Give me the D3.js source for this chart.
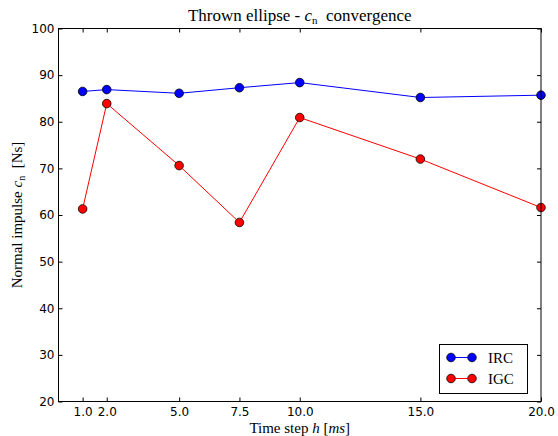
<!DOCTYPE html>
<html>
<head>
<meta charset="utf-8">
<script src="https://cdn.jsdelivr.net/npm/d3@7"></script>
<style>
  html, body { margin: 0; padding: 0; background: #fff; }
  svg { display: block; }
</style>
</head>
<body>
<svg id="chart" width="558" height="436"></svg>
<script>
// Time steps (ms) and normal impulse results (Ns)
const timeSteps = [1.0, 2.0, 5.0, 7.5, 10.0, 15.0, 20.0];
const ircValues = [86.5, 86.9, 86.1, 87.3, 88.4, 85.2, 85.7];
const igcValues = [61.3, 83.9, 70.6, 58.4, 80.9, 72.0, 61.6];
const xTickValues = [1.0, 2.0, 5.0, 7.5, 10.0, 15.0, 20.0];
const yTickValues = [20, 30, 40, 50, 60, 70, 80, 90, 100];
const seriesNames = ["IRC", "IGC"];
const seriesColors = ["#0000ff", "#ff0000"];

const svg = d3.select("#chart");
const margin = { left: 58.5, right: 17, top: 28.5, bottom: 34.5 };
const W = 558, H = 436;
const x = d3.scaleLinear().domain([0, 20]).range([margin.left, W - margin.right]);
const y = d3.scaleLinear().domain([20, 100]).range([H - margin.bottom, margin.top]);

const tickFont = "DejaVu Sans, sans-serif";
const serif = "Liberation Serif, Times New Roman, serif";

// Data lines and markers
const series = [ircValues, igcValues];
const line = d3.line().x((d, i) => x(timeSteps[i])).y(d => y(d));
series.forEach((vals, k) => {
  svg.append("path")
    .attr("d", line(vals))
    .attr("fill", "none")
    .attr("stroke", seriesColors[k])
    .attr("stroke-width", 1);
});
series.forEach((vals, k) => {
  svg.append("g").selectAll("circle").data(vals).join("circle")
    .attr("cx", (d, i) => x(timeSteps[i]))
    .attr("cy", d => y(d))
    .attr("r", 4.3)
    .attr("fill", seriesColors[k])
    .attr("stroke", "#000")
    .attr("stroke-width", 0.8);
});

// Axes with inward ticks on all four sides
const tickLen = 4;
const bottomAxis = d3.axisBottom(x).tickValues(xTickValues).tickFormat(d3.format(".1f")).tickSizeInner(-tickLen).tickSizeOuter(0).tickPadding(6);
const topAxis = d3.axisTop(x).tickValues(xTickValues).tickFormat("").tickSizeInner(-tickLen).tickSizeOuter(0);
const leftAxis = d3.axisLeft(y).tickValues(yTickValues).tickFormat(d3.format("d")).tickSizeInner(-tickLen).tickSizeOuter(0).tickPadding(4);
const rightAxis = d3.axisRight(y).tickValues(yTickValues).tickFormat("").tickSizeInner(-tickLen).tickSizeOuter(0);

function styleAxis(g) {
  g.select(".domain").remove();
  g.selectAll(".tick line").attr("stroke", "#000").attr("stroke-width", 1);
  g.selectAll(".tick text").attr("font-family", tickFont).attr("font-size", 12).attr("fill", "#000");
}
svg.append("g").attr("transform", `translate(0,${H - margin.bottom})`).call(bottomAxis).call(styleAxis);
svg.append("g").attr("transform", `translate(0,${margin.top})`).call(topAxis).call(styleAxis);
svg.append("g").attr("transform", `translate(${margin.left},0)`).call(leftAxis).call(styleAxis);
svg.append("g").attr("transform", `translate(${W - margin.right},0)`).call(rightAxis).call(styleAxis);

// Frame
svg.append("rect")
  .attr("x", margin.left).attr("y", margin.top)
  .attr("width", W - margin.left - margin.right)
  .attr("height", H - margin.top - margin.bottom)
  .attr("fill", "none").attr("stroke", "#000").attr("stroke-width", 1);

// Title
const title = svg.append("text")
  .attr("x", (margin.left + W - margin.right) / 2).attr("y", 21)
  .attr("text-anchor", "middle")
  .attr("font-family", serif).attr("font-size", 17);
title.append("tspan").text("Thrown ellipse - ");
title.append("tspan").attr("font-style", "italic").text("c");
title.append("tspan").attr("font-size", 11).attr("dy", 3).text("n");
title.append("tspan").attr("dy", -3).text("\u2002convergence");

// X label
const xl = svg.append("text")
  .attr("x", (margin.left + W - margin.right) / 2).attr("y", 433)
  .attr("text-anchor", "middle")
  .attr("font-family", serif).attr("font-size", 15);
xl.append("tspan").text("Time step ");
xl.append("tspan").attr("font-style", "italic").text("h");
xl.append("tspan").text(" [");
xl.append("tspan").attr("font-style", "italic").text("ms");
xl.append("tspan").text("]");

// Y label
const yl = svg.append("text")
  .attr("transform", `translate(22,${(margin.top + H - margin.bottom) / 2}) rotate(-90)`)
  .attr("text-anchor", "middle")
  .attr("font-family", serif).attr("font-size", 15);
yl.append("tspan").text("Normal impulse ");
yl.append("tspan").attr("font-style", "italic").text("c");
yl.append("tspan").attr("font-size", 10).attr("dy", 3).text("n");
yl.append("tspan").attr("dy", -3).text("\u2002[Ns]");

// Legend
const lg = svg.append("g");
lg.append("rect")
  .attr("x", 439.5).attr("y", 344.5).attr("width", 88).attr("height", 49)
  .attr("fill", "#fff").attr("stroke", "#000").attr("stroke-width", 1);
seriesNames.forEach((name, k) => {
  const ly = 357.5 + k * 21;
  lg.append("line").attr("x1", 451).attr("x2", 472).attr("y1", ly).attr("y2", ly)
    .attr("stroke", seriesColors[k]).attr("stroke-width", 1);
  [451, 472].forEach(cx => lg.append("circle").attr("cx", cx).attr("cy", ly).attr("r", 4.3)
    .attr("fill", seriesColors[k]).attr("stroke", "#000").attr("stroke-width", 0.8));
  lg.append("text").attr("x", 488).attr("y", ly + 5)
    .attr("font-family", serif).attr("font-size", 15).text(name);
});
</script>
</body>
</html>
